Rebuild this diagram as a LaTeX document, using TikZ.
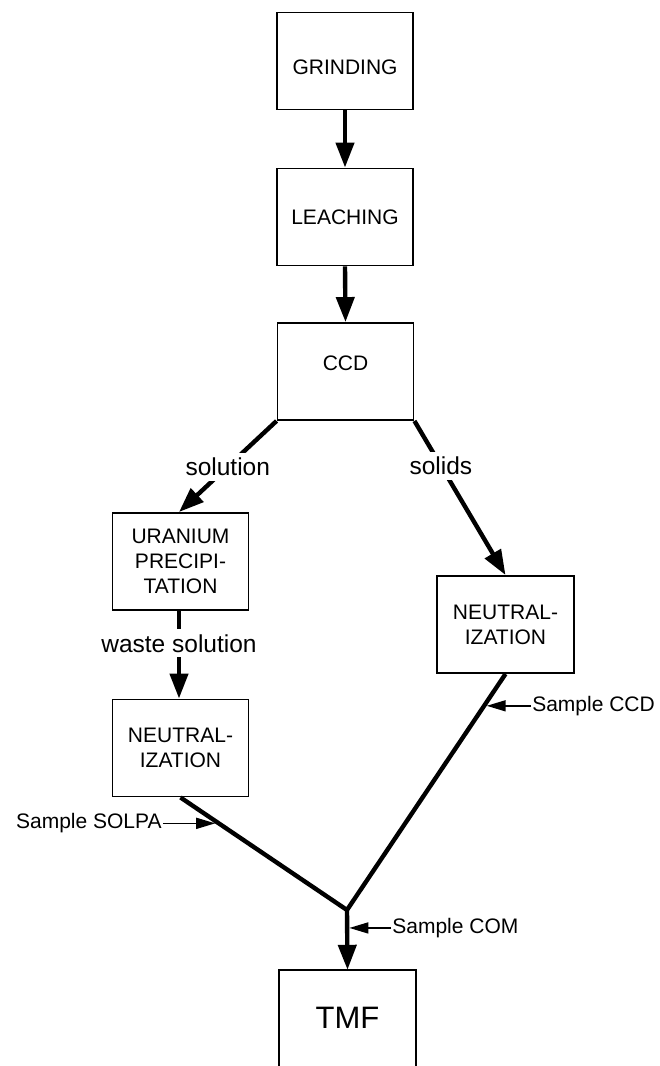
\documentclass[tikz,border=0pt]{standalone}
\usepackage{fontspec}
\setmainfont{Liberation Sans}
\usetikzlibrary{arrows.meta}
\begin{document}
\begin{tikzpicture}[x=1pt,y=-1pt,
  procbox/.style={draw,line width=1.9pt,minimum width=136pt,minimum height=97pt,inner sep=0pt,align=center,font=\fontsize{21}{25}\selectfont},
  tmfbox/.style={minimum width=137pt,minimum height=96pt,inner sep=0pt,font=\fontsize{31}{36}\selectfont},
  boxline/.style={line width=1.9pt},
  flow/.style={line width=4.4pt,-{Triangle[length=25pt,width=18pt]}},
  flowline/.style={line width=4.4pt,line join=round},
  flowlabel/.style={fill=white,inner xsep=2pt,inner ysep=5pt,font=\fontsize{24.5}{28}\selectfont},
  samplearrow/.style={line width=1.6pt,-{Triangle[length=19pt,width=11pt]}},
  sampletext/.style={inner sep=1pt,font=\fontsize{21}{25}\selectfont}]
\useasboundingbox (0,0) rectangle (659,1066);

\node[procbox] (grind) at (345,61) {\raisebox{-6pt}[15pt][0pt]{GRINDING}};
\node[procbox] (leach) at (345,217) {LEACHING};
\node[procbox] (ccd) at (345.5,371.5) {\raisebox{9pt}[15pt][0pt]{CCD}};
\node[procbox] (uran) at (180.5,561.5) {URANIUM\\PRECIPI-\\TATION};
\node[procbox] (neutL) at (180.5,748) {NEUTRAL-\\IZATION};
\node[procbox,minimum width=137pt] (neutR) at (505.5,624.5) {NEUTRAL-\\IZATION};
\node[tmfbox] (tmf) at (347.5,1018) {TMF};
\draw[boxline] (tmf.south west) -- (tmf.north west) -- (tmf.north east) -- (tmf.south east);

\coordinate (junc) at (347,910);

\draw[flow] (grind.south) -- (leach.north);
\draw[flow] (leach.south) -- (ccd.north);
\draw[flow] (ccd.south west) -- node[flowlabel,pos=0.5] {solution} ([xshift=-1.5pt]uran.north);
\draw[flow] (ccd.south east) -- node[flowlabel,pos=0.29] {solids} (neutR.north);
\draw[flow] ([xshift=-1.5pt]uran.south) -- node[flowlabel,pos=0.37] {waste solution} ([xshift=-1.5pt]neutL.north);

\draw[flowline] (neutL.south) -- (junc) -- (neutR.south);
\draw[flow] (junc) -- (tmf.north);

\path (neutL.south) -- (junc) coordinate[pos=0.23] (solpaPt);
\path (neutR.south) -- (junc) coordinate[pos=0.135] (ccdPt);
\path (junc) -- (tmf.north) coordinate[pos=0.3] (comPt);

\node[sampletext,anchor=east] (solpaTxt) at ([xshift=-56pt]solpaPt) {Sample SOLPA};
\node[sampletext,anchor=west] (ccdTxt) at ([xshift=47pt]ccdPt) {Sample CCD};
\node[sampletext,anchor=west] (comTxt) at ([xshift=44pt]comPt) {Sample COM};

\draw[samplearrow,shorten >=3.6pt] (solpaTxt.east) -- (solpaPt);
\draw[samplearrow,shorten >=2.6pt] (ccdTxt.west) -- (ccdPt);
\draw[samplearrow,shorten >=2.2pt] (comTxt.west) -- (comPt);
\end{tikzpicture}
\end{document}
